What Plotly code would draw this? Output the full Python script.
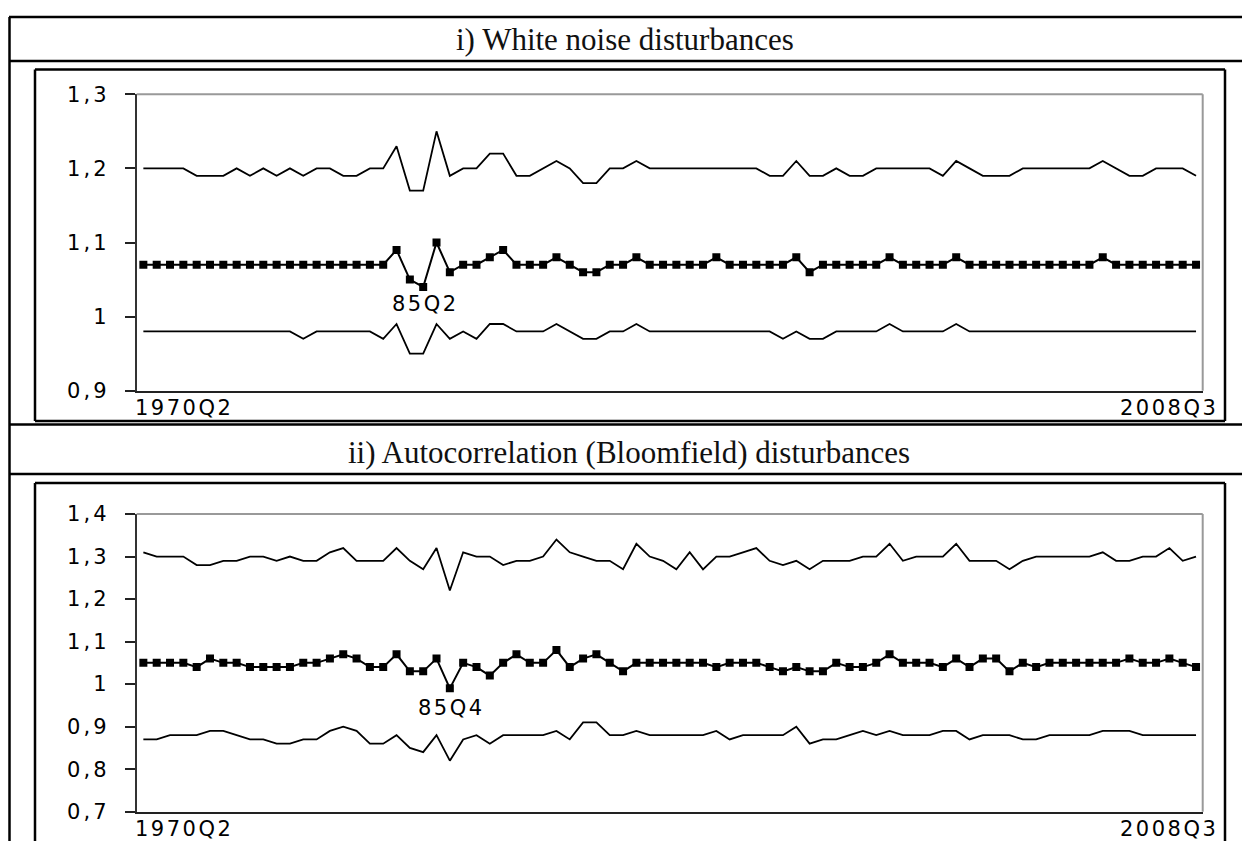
import plotly.graph_objects as go

# ---------------- data ----------------
n_points = 80
x_index = list(range(n_points))
x_first_label = "1970Q2"
x_last_label = "2008Q3"

panel_titles = ["i) White noise disturbances",
                "ii) Autocorrelation (Bloomfield) disturbances"]

# panel i) white noise
wn_upper = [1.20, 1.20, 1.20, 1.20, 1.19, 1.19, 1.19, 1.20, 1.19, 1.20,
            1.19, 1.20, 1.19, 1.20, 1.20, 1.19, 1.19, 1.20, 1.20, 1.23,
            1.17, 1.17, 1.25, 1.19, 1.20, 1.20, 1.22, 1.22, 1.19, 1.19,
            1.20, 1.21, 1.20, 1.18, 1.18, 1.20, 1.20, 1.21, 1.20, 1.20,
            1.20, 1.20, 1.20, 1.20, 1.20, 1.20, 1.20, 1.19, 1.19, 1.21,
            1.19, 1.19, 1.20, 1.19, 1.19, 1.20, 1.20, 1.20, 1.20, 1.20,
            1.19, 1.21, 1.20, 1.19, 1.19, 1.19, 1.20, 1.20, 1.20, 1.20,
            1.20, 1.20, 1.21, 1.20, 1.19, 1.19, 1.20, 1.20, 1.20, 1.19]
wn_middle = [1.07, 1.07, 1.07, 1.07, 1.07, 1.07, 1.07, 1.07, 1.07, 1.07,
             1.07, 1.07, 1.07, 1.07, 1.07, 1.07, 1.07, 1.07, 1.07, 1.09,
             1.05, 1.04, 1.10, 1.06, 1.07, 1.07, 1.08, 1.09, 1.07, 1.07,
             1.07, 1.08, 1.07, 1.06, 1.06, 1.07, 1.07, 1.08, 1.07, 1.07,
             1.07, 1.07, 1.07, 1.08, 1.07, 1.07, 1.07, 1.07, 1.07, 1.08,
             1.06, 1.07, 1.07, 1.07, 1.07, 1.07, 1.08, 1.07, 1.07, 1.07,
             1.07, 1.08, 1.07, 1.07, 1.07, 1.07, 1.07, 1.07, 1.07, 1.07,
             1.07, 1.07, 1.08, 1.07, 1.07, 1.07, 1.07, 1.07, 1.07, 1.07]
wn_lower = [0.98, 0.98, 0.98, 0.98, 0.98, 0.98, 0.98, 0.98, 0.98, 0.98,
            0.98, 0.98, 0.97, 0.98, 0.98, 0.98, 0.98, 0.98, 0.97, 0.99,
            0.95, 0.95, 0.99, 0.97, 0.98, 0.97, 0.99, 0.99, 0.98, 0.98,
            0.98, 0.99, 0.98, 0.97, 0.97, 0.98, 0.98, 0.99, 0.98, 0.98,
            0.98, 0.98, 0.98, 0.98, 0.98, 0.98, 0.98, 0.98, 0.97, 0.98,
            0.97, 0.97, 0.98, 0.98, 0.98, 0.98, 0.99, 0.98, 0.98, 0.98,
            0.98, 0.99, 0.98, 0.98, 0.98, 0.98, 0.98, 0.98, 0.98, 0.98,
            0.98, 0.98, 0.98, 0.98, 0.98, 0.98, 0.98, 0.98, 0.98, 0.98]

# panel ii) autocorrelation (Bloomfield)
ac_upper = [1.31, 1.30, 1.30, 1.30, 1.28, 1.28, 1.29, 1.29, 1.30, 1.30,
            1.29, 1.30, 1.29, 1.29, 1.31, 1.32, 1.29, 1.29, 1.29, 1.32,
            1.29, 1.27, 1.32, 1.22, 1.31, 1.30, 1.30, 1.28, 1.29, 1.29,
            1.30, 1.34, 1.31, 1.30, 1.29, 1.29, 1.27, 1.33, 1.30, 1.29,
            1.27, 1.31, 1.27, 1.30, 1.30, 1.31, 1.32, 1.29, 1.28, 1.29,
            1.27, 1.29, 1.29, 1.29, 1.30, 1.30, 1.33, 1.29, 1.30, 1.30,
            1.30, 1.33, 1.29, 1.29, 1.29, 1.27, 1.29, 1.30, 1.30, 1.30,
            1.30, 1.30, 1.31, 1.29, 1.29, 1.30, 1.30, 1.32, 1.29, 1.30]
ac_middle = [1.05, 1.05, 1.05, 1.05, 1.04, 1.06, 1.05, 1.05, 1.04, 1.04,
             1.04, 1.04, 1.05, 1.05, 1.06, 1.07, 1.06, 1.04, 1.04, 1.07,
             1.03, 1.03, 1.06, 0.99, 1.05, 1.04, 1.02, 1.05, 1.07, 1.05,
             1.05, 1.08, 1.04, 1.06, 1.07, 1.05, 1.03, 1.05, 1.05, 1.05,
             1.05, 1.05, 1.05, 1.04, 1.05, 1.05, 1.05, 1.04, 1.03, 1.04,
             1.03, 1.03, 1.05, 1.04, 1.04, 1.05, 1.07, 1.05, 1.05, 1.05,
             1.04, 1.06, 1.04, 1.06, 1.06, 1.03, 1.05, 1.04, 1.05, 1.05,
             1.05, 1.05, 1.05, 1.05, 1.06, 1.05, 1.05, 1.06, 1.05, 1.04]
ac_lower = [0.87, 0.87, 0.88, 0.88, 0.88, 0.89, 0.89, 0.88, 0.87, 0.87,
            0.86, 0.86, 0.87, 0.87, 0.89, 0.90, 0.89, 0.86, 0.86, 0.88,
            0.85, 0.84, 0.88, 0.82, 0.87, 0.88, 0.86, 0.88, 0.88, 0.88,
            0.88, 0.89, 0.87, 0.91, 0.91, 0.88, 0.88, 0.89, 0.88, 0.88,
            0.88, 0.88, 0.88, 0.89, 0.87, 0.88, 0.88, 0.88, 0.88, 0.90,
            0.86, 0.87, 0.87, 0.88, 0.89, 0.88, 0.89, 0.88, 0.88, 0.88,
            0.89, 0.89, 0.87, 0.88, 0.88, 0.88, 0.87, 0.87, 0.88, 0.88,
            0.88, 0.88, 0.89, 0.89, 0.89, 0.88, 0.88, 0.88, 0.88, 0.88]

wn_ticks = [0.9, 1.0, 1.1, 1.2, 1.3]
wn_ticktext = ["0,9", "1", "1,1", "1,2", "1,3"]
ac_ticks = [0.7, 0.8, 0.9, 1.0, 1.1, 1.2, 1.3, 1.4]
ac_ticktext = ["0,7", "0,8", "0,9", "1", "1,1", "1,2", "1,3", "1,4"]

wn_break_idx, wn_break_label = 21, "85Q2"
ac_break_idx, ac_break_label = 23, "85Q4"

# ---------------- layout helpers ----------------
# The page body has an 8px margin, so the figure is sized to fit inside the
# window and positions below are given in window pixels.
OFF = 8
W, H = 1250 - OFF, 841 - OFF


def px(x):
    return (x - OFF) / W


def py(y):
    return 1 - (y - OFF) / H


def wide(s, sp=2.5):
    return '<span style="letter-spacing:%.1fpx">%s</span>' % (sp, s)


TICK_FONT = dict(family="DejaVu Sans, Liberation Sans, Arial", size=21, color="#000")
TITLE_FONT = dict(family="Liberation Serif, Times New Roman, serif", size=31, color="#111")

fig = go.Figure()

panels = [
    dict(xa="x", ya="y", up=wn_upper, mid=wn_middle, lo=wn_lower,
         yr=[0.9, 1.3], ticks=wn_ticks, ticktext=wn_ticktext,
         top=94.3, bottom=390.7, bidx=wn_break_idx, blabel=wn_break_label,
         bshift=-17),
    dict(xa="x2", ya="y2", up=ac_upper, mid=ac_middle, lo=ac_lower,
         yr=[0.7, 1.4], ticks=ac_ticks, ticktext=ac_ticktext,
         top=514.0, bottom=811.7, bidx=ac_break_idx, blabel=ac_break_label,
         bshift=-20),
]

plot_left, plot_right = 136.7, 1202.7

for k, p in enumerate(panels):
    line_style = dict(color="#000", width=1.8)
    fig.add_trace(go.Scatter(x=x_index, y=p["up"], mode="lines", line=line_style,
                             xaxis=p["xa"], yaxis=p["ya"], showlegend=False))
    fig.add_trace(go.Scatter(x=x_index, y=p["lo"], mode="lines", line=line_style,
                             xaxis=p["xa"], yaxis=p["ya"], showlegend=False))
    fig.add_trace(go.Scatter(x=x_index, y=p["mid"], mode="lines+markers",
                             line=dict(color="#000", width=2),
                             marker=dict(symbol="square", size=8, color="#000"),
                             xaxis=p["xa"], yaxis=p["ya"], showlegend=False))

    sfx = "" if k == 0 else "2"
    fig.update_layout(**{
        "xaxis" + sfx: dict(domain=[px(plot_left), px(plot_right)],
                            range=[-0.5, n_points - 0.5],
                            showline=True, linecolor="#222", linewidth=2,
                            showticklabels=False, ticks="", showgrid=False,
                            zeroline=False, anchor="y" + sfx, automargin=False),
        "yaxis" + sfx: dict(domain=[py(p["bottom"]), py(p["top"])],
                            range=p["yr"], tickvals=p["ticks"],
                            ticktext=[wide(t, 3) for t in p["ticktext"]],
                            tickfont=TICK_FONT,
                            ticks="outside", ticklen=10, tickwidth=1.5,
                            tickcolor="#222", ticklabelstandoff=11,
                            showline=True, linecolor="#333", linewidth=2,
                            showgrid=False, zeroline=False,
                            anchor="x" + sfx, automargin=False),
    })
    # gray frame top/right
    fig.add_shape(type="line", xref="paper", yref="paper",
                  x0=px(plot_left), x1=px(plot_right), y0=py(p["top"]), y1=py(p["top"]),
                  line=dict(color="#999", width=2))
    fig.add_shape(type="line", xref="paper", yref="paper",
                  x0=px(plot_right), x1=px(plot_right), y0=py(p["top"]), y1=py(p["bottom"]),
                  line=dict(color="#999", width=2))
    # x labels (first / last category)
    fig.add_annotation(x=-0.5, y=p["yr"][0], xref=p["xa"], yref=p["ya"],
                       text=wide(x_first_label), showarrow=False, xanchor="left",
                       xshift=-4, yanchor="top", yshift=-3, font=TICK_FONT)
    fig.add_annotation(x=n_points - 0.5, y=p["yr"][0], xref=p["xa"], yref=p["ya"],
                       text=wide(x_last_label), showarrow=False, xanchor="right",
                       xshift=17, yanchor="top", yshift=-3, font=TICK_FONT)
    # break label
    fig.add_annotation(x=p["bidx"], y=p["mid"][p["bidx"]], xref=p["xa"], yref=p["ya"],
                       text=wide(p["blabel"], 2.5), showarrow=False, yanchor="middle",
                       xshift=2, yshift=p["bshift"], font=TICK_FONT)

# ---------------- table / frame lines ----------------
BLK = "#000"


def hline(y, x0, x1, w=2.5):
    fig.add_shape(type="line", xref="paper", yref="paper", x0=px(x0), x1=px(x1),
                  y0=py(y), y1=py(y), line=dict(color=BLK, width=w))


def vline(x, y0, y1, w=2.5):
    fig.add_shape(type="line", xref="paper", yref="paper", x0=px(x), x1=px(x),
                  y0=py(y0), y1=py(y1), line=dict(color=BLK, width=w))


# outer table
hline(17, 9, 1252)
hline(61, 9, 1252)
hline(424.5, 9, 1252)
hline(474, 9, 1252)
vline(9.5, 17, 845)
vline(1248.5, 17, 845)
# inner chart boxes
hline(69.5, 35, 1225)
hline(421, 35, 1225)
vline(35, 69.5, 421)
vline(1225, 69.5, 421)
hline(483, 35, 1225)
vline(35, 483, 845)
vline(1225, 483, 845)

fig.add_annotation(x=px(625), y=py(40), xref="paper", yref="paper",
                   text=panel_titles[0], showarrow=False, font=TITLE_FONT,
                   xanchor="center", yanchor="middle")
fig.add_annotation(x=px(629), y=py(452), xref="paper", yref="paper",
                   text=panel_titles[1], showarrow=False, font=TITLE_FONT,
                   xanchor="center", yanchor="middle")

fig.update_layout(width=W, height=H, autosize=False,
                  margin=dict(l=0, r=0, t=0, b=0, pad=0),
                  paper_bgcolor="#fff", plot_bgcolor="#fff", showlegend=False)

fig.write_html("out.html")
